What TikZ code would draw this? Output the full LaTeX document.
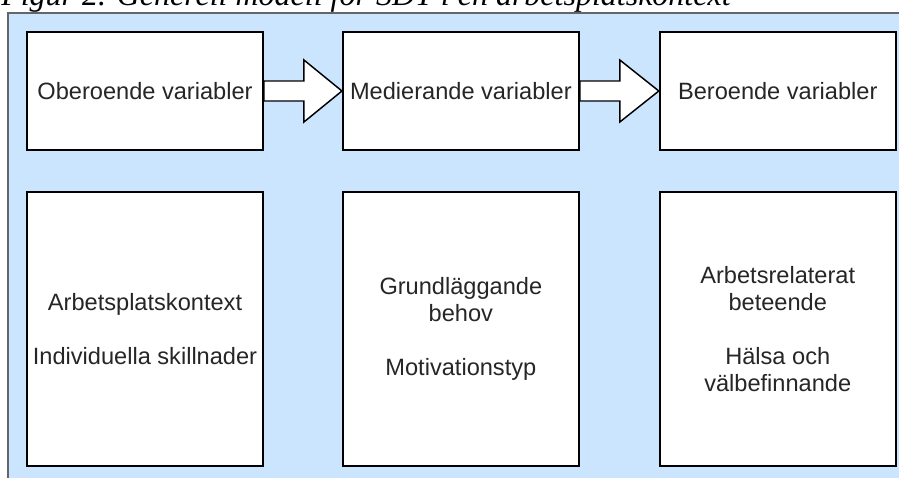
\documentclass[tikz,border=0pt]{standalone}
\usepackage{fontspec}
\setmainfont{Liberation Sans}
\newfontfamily\capfont{Liberation Serif}
\usetikzlibrary{positioning,calc}
\definecolor{panelblue}{HTML}{CCE5FF}
\definecolor{panelgray}{HTML}{666666}

\begin{document}
\begin{tikzpicture}[
        x=0.75pt,y=-0.75pt,
        panel/.style={draw=panelgray,line width=1.5pt,fill=panelblue},
        var/.style={draw,fill=white,line width=1.4pt,minimum width=177pt,minimum height=88.5pt,
            align=center,inner sep=0pt,text=black!85,font=\fontsize{17.7pt}{20.25pt}\selectfont},
        factor/.style={var,minimum height=205.5pt},
        blockarrow/.style={draw,fill=white,line width=1.1pt,line join=miter},
        caption/.style={anchor=base west,inner sep=0pt,font=\capfont\itshape\fontsize{24pt}{28pt}\selectfont},
        ]
    \useasboundingbox (0,0) rectangle (899,478);
    \clip (0,0) rectangle (899,478);
    % caption, cut off at the top
    \node (cap) [caption] at (1,5.5) {Figur 2. Generell modell för SDT i en arbetsplatskontext};
    \draw [panel] (8,13) rectangle (910,490);

    \node (ob) [var] at (145,91) {Oberoende variabler};
    \node (me) [var,right=58.5pt of ob] {Medierande variabler};
    \node (be) [var,right=59.25pt of me] {Beroende variabler};

    \node (obf) [factor,below=30pt of ob] {Arbetsplatskontext\\[20.25pt]Individuella skillnader};
    \node (mef) [factor,below=30pt of me] {Grundläggande\\behov\\[20.25pt]Motivationstyp};
    \node (bef) [factor,below=30pt of be] {Arbetsrelaterat\\beteende\\[20.25pt]Hälsa och\\välbefinnande};

    \draw [blockarrow] ($(ob.east)+(0,-10)$) -- ++(40,0) -- ++(0,-21) -- (me.west)
        -- ($(ob.east)+(40,31)$) -- ++(0,-21) -- ($(ob.east)+(0,10)$) -- cycle;
    \draw [blockarrow] ($(me.east)+(0,-10)$) -- ++(40,0) -- ++(0,-21) -- (be.west)
        -- ($(me.east)+(40,31)$) -- ++(0,-21) -- ($(me.east)+(0,10)$) -- cycle;
\end{tikzpicture}
\end{document}
